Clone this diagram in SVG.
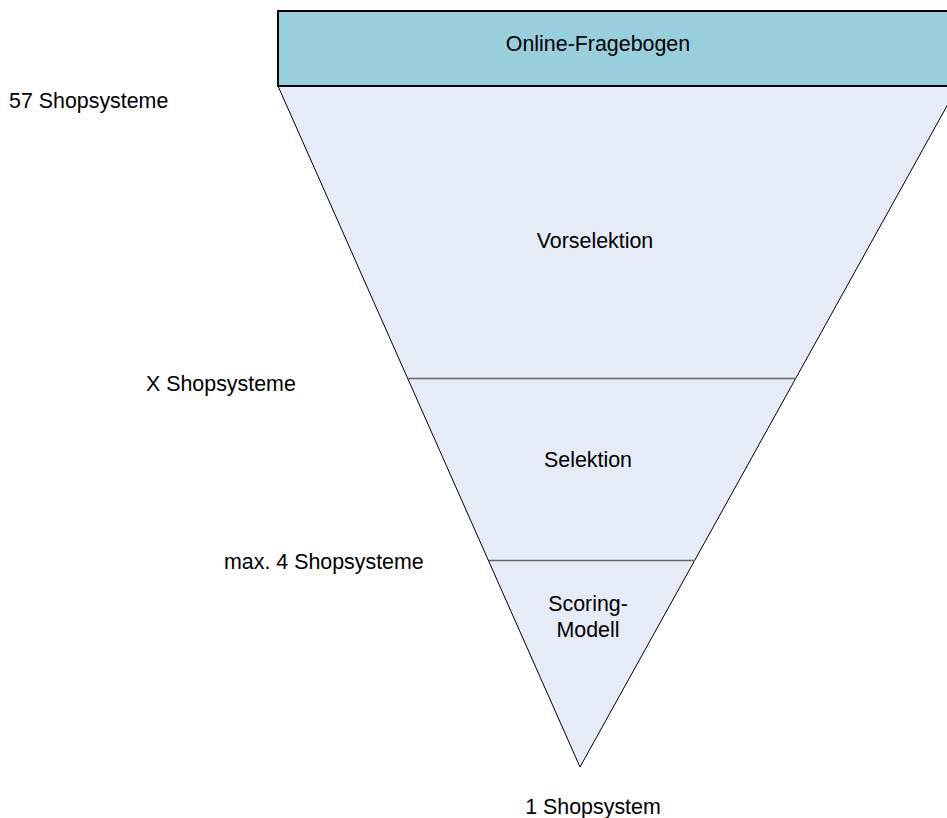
<svg xmlns="http://www.w3.org/2000/svg" width="947" height="818" viewBox="0 0 947 818">
  <style>
    text { font-family: "Liberation Sans", Arial, sans-serif; font-size: 21.4px; fill: #000; }
    .c { text-anchor: middle; }
    .stage { fill: #E6ECF7; stroke: none; }
    .edge { stroke: #000; stroke-width: 1; fill: none; }
    .divider { stroke: #666; stroke-width: 1.5; fill: none; }
  </style>

  <!-- funnel body -->
  <g id="funnel">
    <polygon class="stage" points="278,86 958,86 580,767"/>
    <line class="edge" x1="278" y1="86" x2="580" y2="767"/>
    <line class="edge" x1="958" y1="86" x2="580" y2="767"/>
  </g>

  <!-- stage separators -->
  <g id="dividers">
    <line class="divider" x1="408" y1="378.5" x2="796" y2="378.5"/>
    <line class="divider" x1="489" y1="560.5" x2="695" y2="560.5"/>
  </g>

  <!-- questionnaire header -->
  <g id="fragebogen">
    <rect x="278" y="11" width="690" height="75" fill="#97CFDC" stroke="#000" stroke-width="2"/>
    <text class="c" x="598" y="51">Online-Fragebogen</text>
  </g>

  <g id="vorselektion">
    <text class="c" x="595" y="248">Vorselektion</text>
  </g>
  <g id="selektion">
    <text class="c" x="588" y="467">Selektion</text>
  </g>
  <g id="scoring">
    <text class="c" x="588" y="611">Scoring-</text>
    <text class="c" x="588" y="637">Modell</text>
  </g>

  <!-- counts per stage -->
  <g id="counts">
    <text x="9" y="108">57 Shopsysteme</text>
    <text x="146" y="391">X Shopsysteme</text>
    <text x="224" y="569">max. 4 Shopsysteme</text>
    <text class="c" x="593" y="814">1 Shopsystem</text>
  </g>
</svg>
